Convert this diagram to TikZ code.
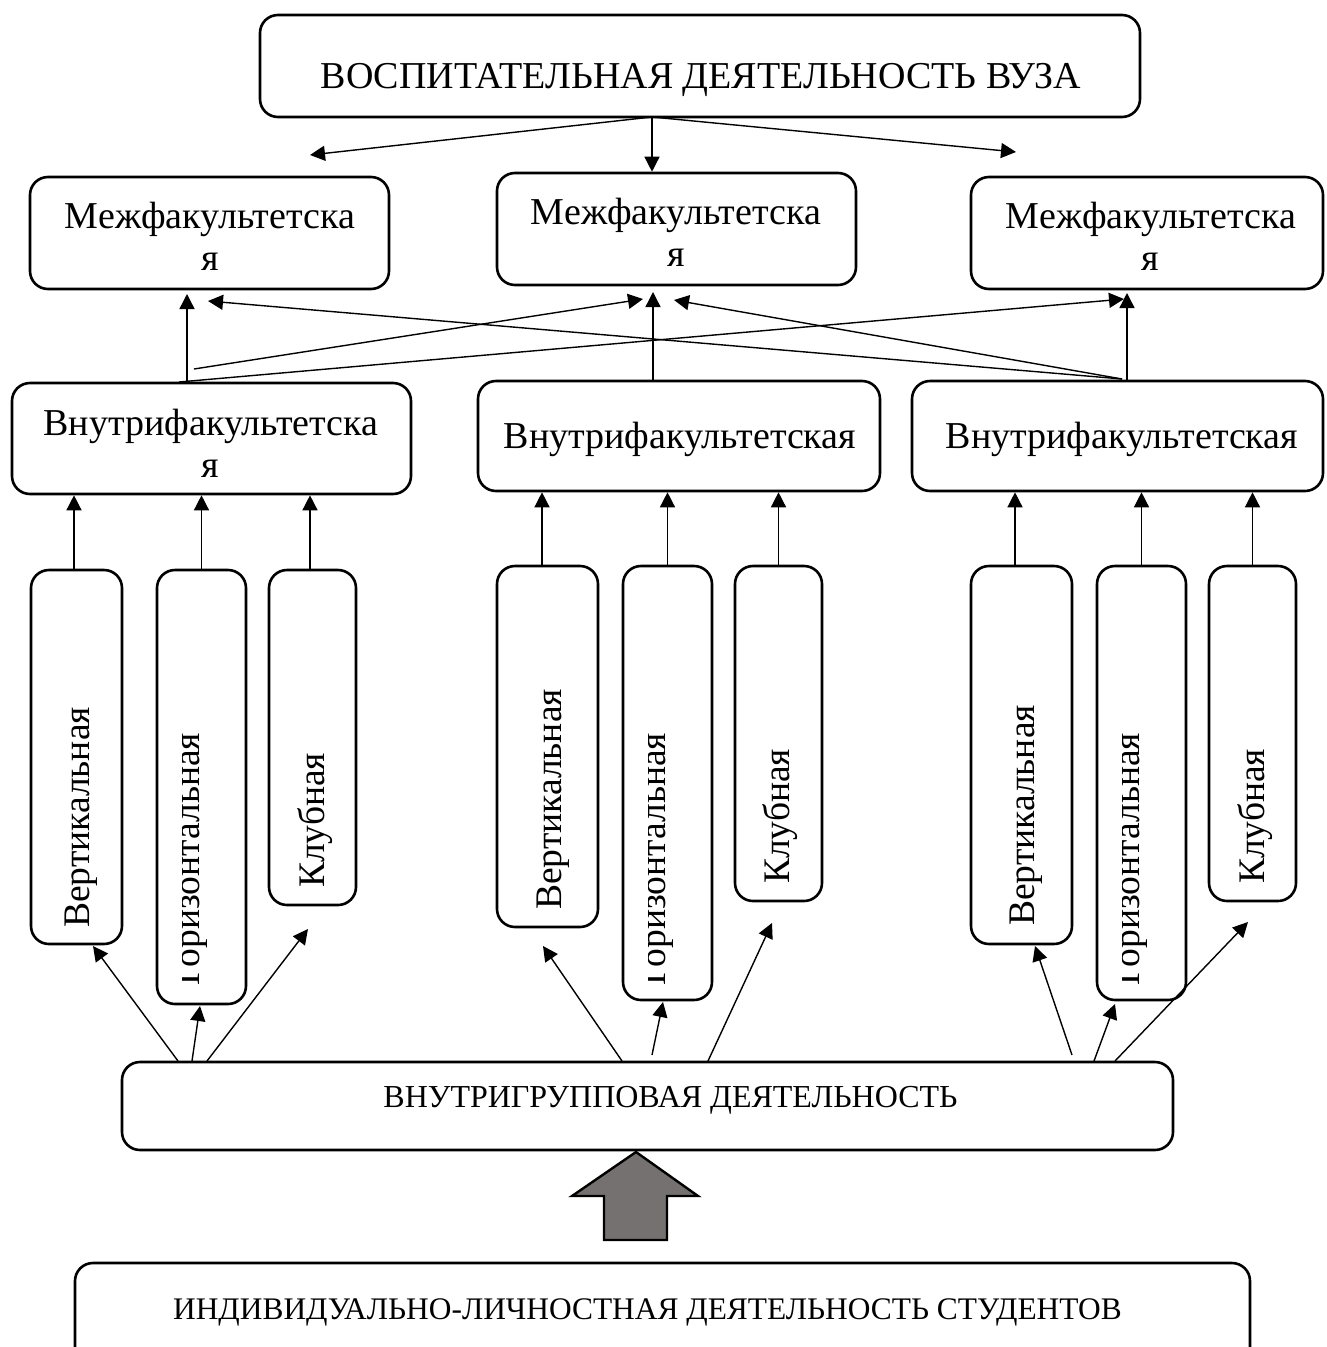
\documentclass[tikz,border=0pt]{standalone}
\usepackage{fontspec}
\setmainfont{Liberation Serif}
\usetikzlibrary{arrows.meta}
\begin{document}
\begin{tikzpicture}[x=1pt,y=-1pt,
  box/.style={draw,line width=2.6pt,rounded corners=18pt,inner sep=0pt},
  bigtext/.style={font=\fontsize{38}{42}\selectfont,inner sep=0pt,anchor=base},
  grptext/.style={font=\fontsize{32}{38}\selectfont,inner sep=0pt,anchor=base},
  indtext/.style={font=\fontsize{31.4}{38}\selectfont,inner sep=0pt,anchor=base},
  vtext/.style={font=\fontsize{37.5}{42}\selectfont,inner sep=0pt,rotate=90,anchor=base west},
  arr/.style={line width=1.4pt,-{Triangle[length=15pt,width=15pt]}},
  blockarrow/.style={draw,line width=2.4pt,fill=arrowgray,line join=miter}
]
\definecolor{arrowgray}{HTML}{767171}
\useasboundingbox (0,0) rectangle (1326,1347);
\clip (0,0) rectangle (1326,1347);

% ---- boxes ----
\node[box,minimum width=880pt,minimum height=102pt] (top) at (700,66) {};
\node[box,minimum width=359pt,minimum height=112pt] (meL) at (209.5,233) {};
\node[box,minimum width=359pt,minimum height=112pt] (meM) at (676.5,229) {};
\node[box,minimum width=352pt,minimum height=112pt] (meR) at (1147,233) {};
\node[box,minimum width=399pt,minimum height=111pt] (inL) at (211.5,438.5) {};
\node[box,minimum width=402pt,minimum height=110pt] (inM) at (679,436) {};
\node[box,minimum width=411pt,minimum height=110pt] (inR) at (1117.5,436) {};

\node[box,minimum width=91pt,minimum height=374pt] (vL) at (76.5,757) {};
\node[box,minimum width=89pt,minimum height=434pt] (gL) at (201.5,787) {};
\node[box,minimum width=87pt,minimum height=335pt] (kL) at (312.5,737.5) {};
\node[box,minimum width=101pt,minimum height=361pt] (vM) at (547.5,746.5) {};
\node[box,minimum width=89pt,minimum height=434pt] (gM) at (667.5,783) {};
\node[box,minimum width=87pt,minimum height=335pt] (kM) at (778.5,733.5) {};
\node[box,minimum width=101pt,minimum height=378pt] (vR) at (1021.5,755) {};
\node[box,minimum width=89pt,minimum height=434pt] (gR) at (1141.5,783) {};
\node[box,minimum width=87pt,minimum height=335pt] (kR) at (1252.5,733.5) {};

\node[box,minimum width=1051pt,minimum height=88pt] (grp) at (647.5,1106) {};
\node[box,minimum width=1175pt,minimum height=112pt] (ind) at (662.5,1319) {};

% ---- texts ----
\node[bigtext] (ttop) at (701,88) {ВОСПИТАТЕЛЬНАЯ ДЕЯТЕЛЬНОСТЬ ВУЗА};
\node[bigtext] (tmeL1) at (210,228) {Межфакультетска};
\node[bigtext] (tmeL2) at (210,270) {я};
\node[bigtext] (tmeM1) at (676,224) {Межфакультетска};
\node[bigtext] (tmeM2) at (676,266) {я};
\node[bigtext] (tmeR1) at (1151,228) {Межфакультетска};
\node[bigtext] (tmeR2) at (1150,270) {я};
\node[bigtext] (tinL1) at (211,435) {Внутрифакультетска};
\node[bigtext] (tinL2) at (210,477) {я};
\node[bigtext] (tinM) at (680,448) {Внутрифакультетская};
\node[bigtext] (tinR) at (1122,448) {Внутрифакультетская};
\node[grptext] (tgrp) at (670.5,1107) {ВНУТРИГРУППОВАЯ ДЕЯТЕЛЬНОСТЬ};
\node[indtext] (tind) at (647.5,1319.5) {ИНДИВИДУАЛЬНО-ЛИЧНОСТНАЯ ДЕЯТЕЛЬНОСТЬ СТУДЕНТОВ};

\node[vtext] (tvL) at (89.5,928) {Вертикальная};
\node[vtext] (tkL) at (324.5,888) {Клубная};
\node[vtext] (tvM) at (561.5,910) {Вертикальная};
\node[vtext] (tkM) at (789.5,884) {Клубная};
\node[vtext] (tvR) at (1034.5,926) {Вертикальная};
\node[vtext] (tkR) at (1264.5,884) {Клубная};
\begin{scope}
  \clip (182,560) rectangle (250,1002);
  \node[vtext] (tgL) at (199,986) {Горизонтальная};
\end{scope}
\begin{scope}
  \clip (648,560) rectangle (715,1002);
  \node[vtext] (tgM) at (665,986) {Горизонтальная};
\end{scope}
\begin{scope}
  \clip (1122,560) rectangle (1190,1002);
  \node[vtext] (tgR) at (1139,986) {Горизонтальная};
\end{scope}

% ---- connectors: top level ----
\coordinate (t0) at (652,117);
\coordinate (tL) at (310,155);
\coordinate (tR) at (1016,152);
\draw[arr] (t0) -- (tL);
\draw[arr] (t0) -- (t0 |- meM.north);
\draw[arr] (t0) -- (tR);

% ---- connectors: middle band ----
\coordinate (aL) at (187,383);
\coordinate (aLe) at (187,294);
\coordinate (s2) at (194,369);
\coordinate (e2) at (643,299);
\coordinate (s3) at (179,382);
\coordinate (e3) at (1124,299);
\coordinate (aM) at (653,381);
\coordinate (aMe) at (653,292);
\coordinate (aR) at (1127,381);
\coordinate (aRe) at (1127,293);
\coordinate (s5) at (1122,379);
\coordinate (e5) at (208,301);
\coordinate (e6) at (674,300);
\draw[arr] (aL) -- (aLe);
\draw[arr] (s2) -- (e2);
\draw[arr] (s3) -- (e3);
\draw[arr] (aM) -- (aMe);
\draw[arr] (aR) -- (aRe);
\draw[arr] (s5) -- (e5);
\draw[arr] (s5) -- (e6);

% ---- connectors: small boxes up ----
\draw[arr] ([xshift=-2.5pt]vL.north) -- ([xshift=-2.5pt]vL.north |- inL.south);
\draw[arr] (gL.north) -- (gL.north |- inL.south);
\draw[arr] ([xshift=-2.5pt]kL.north) -- ([xshift=-2.5pt]kL.north |- inL.south);
\draw[arr] ([xshift=-5.5pt]vM.north) -- ([xshift=-5.5pt]vM.north |- inM.south);
\draw[arr] (gM.north) -- (gM.north |- inM.south);
\draw[arr] (kM.north) -- (kM.north |- inM.south);
\draw[arr] ([xshift=-6.5pt]vR.north) -- ([xshift=-6.5pt]vR.north |- inR.south);
\draw[arr] (gR.north) -- (gR.north |- inR.south);
\draw[arr] (kR.north) -- (kR.north |- inR.south);

% ---- connectors: from the group box ----
\coordinate (bLa) at (178,1061); \coordinate (bLae) at (93,946);
\coordinate (bLb) at (192,1061); \coordinate (bLbe) at (200,1006);
\coordinate (bLc) at (207,1061); \coordinate (bLce) at (308,929);
\coordinate (bMa) at (622,1061); \coordinate (bMae) at (543,946);
\coordinate (bMb) at (652,1055); \coordinate (bMbe) at (663,1002);
\coordinate (bMc) at (708,1061); \coordinate (bMce) at (772,923);
\coordinate (bRa) at (1072,1055); \coordinate (bRae) at (1035,946);
\coordinate (bRb) at (1094,1061); \coordinate (bRbe) at (1115,1004);
\coordinate (bRc) at (1115,1061); \coordinate (bRce) at (1248,922);
\draw[arr] (bLa) -- (bLae);
\draw[arr] (bLb) -- (bLbe);
\draw[arr] (bLc) -- (bLce);
\draw[arr] (bMa) -- (bMae);
\draw[arr] (bMb) -- (bMbe);
\draw[arr] (bMc) -- (bMce);
\draw[arr] (bRa) -- (bRae);
\draw[arr] (bRb) -- (bRbe);
\draw[arr] (bRc) -- (bRce);

% ---- block arrow ----
\draw[blockarrow] (636,1152) -- (698,1196) -- (667,1196) -- (667,1240)
  -- (604,1240) -- (604,1196) -- (572,1196) -- cycle;
\end{tikzpicture}
\end{document}
